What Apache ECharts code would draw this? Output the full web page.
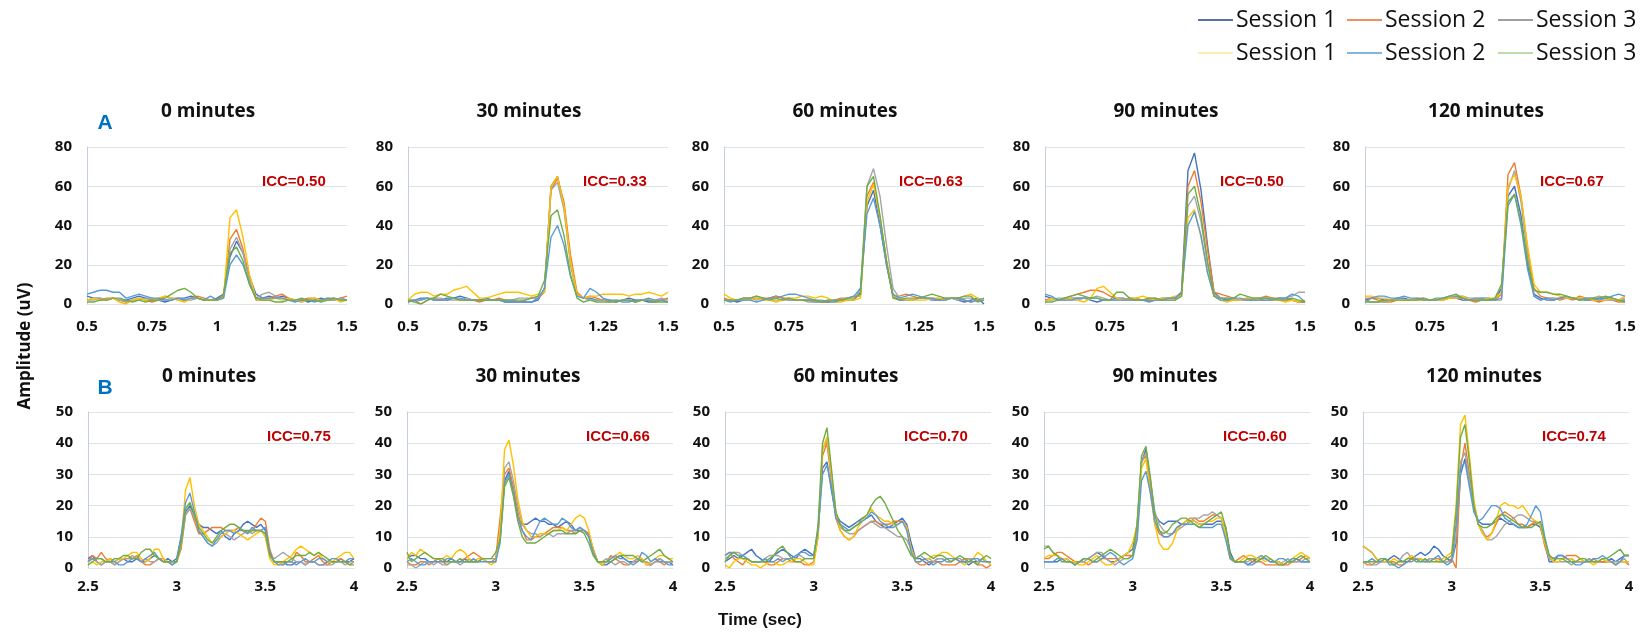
<!DOCTYPE html>
<html>
<head>
<meta charset="utf-8">
<script src="https://cdn.jsdelivr.net/npm/echarts@6/dist/echarts.min.js"></script>
<style>
  html, body { margin: 0; padding: 0; background: #ffffff; }
  #chart { width: 1645px; height: 644px; }
</style>
</head>
<body>
<div id="chart"></div>
<script>
// Sample times (seconds) for the two stimulus windows
const timesA = [0.5,0.525,0.55,0.575,0.6,0.625,0.65,0.675,0.7,0.725,0.75,0.775,0.8,0.825,0.85,0.875,0.9,0.925,0.95,0.975,1,1.025,1.05,1.075,1.1,1.125,1.15,1.175,1.2,1.225,1.25,1.275,1.3,1.325,1.35,1.375,1.4,1.425,1.45,1.475,1.5];
const timesB = [2.5,2.525,2.55,2.575,2.6,2.625,2.65,2.675,2.7,2.725,2.75,2.775,2.8,2.825,2.85,2.875,2.9,2.925,2.95,2.975,3,3.025,3.05,3.075,3.1,3.125,3.15,3.175,3.2,3.225,3.25,3.275,3.3,3.325,3.35,3.375,3.4,3.425,3.45,3.475,3.5,3.525,3.55,3.575,3.6,3.625,3.65,3.675,3.7,3.725,3.75,3.775,3.8,3.825,3.85,3.875,3.9,3.925,3.95,3.975,4];

const panelTitles = ['0 minutes', '30 minutes', '60 minutes', '90 minutes', '120 minutes'];
const iccA = ['0.50', '0.33', '0.63', '0.50', '0.67'];
const iccB = ['0.75', '0.66', '0.70', '0.60', '0.74'];
const xTicksA = { min: 0.5, max: 1.5, interval: 0.25 };
const xTicksB = { min: 2.5, max: 4, interval: 0.5 };
const yTicksA = { min: 0, max: 80, interval: 20 };
const yTicksB = { min: 0, max: 50, interval: 10 };

// Trace colours (two recordings x three sessions)
const traceColors = ['#4472C4', '#ED7D31', '#A5A5A5', '#FFC000', '#5B9BD5', '#70AD47'];
const legendLabels = ['Session 1', 'Session 2', 'Session 3', 'Session 1', 'Session 2', 'Session 3'];
const legendColors = ['#22408C', '#E46C2A', '#7F7F7F', '#FFE699', '#5B9BD5', '#A9D18E'];

// Row A amplitudes (uV), one list per trace
const ampA0 = [
  [4,3,3,2,3,2,2,3,4,3,2,2,1,2,3,3,4,3,2,2,3, 5,24,32,26,14,5,3,4, 3,4,3,2,2,1,2,3,2,2,3,2],
  [2,3,2,3,3,2,1,2,3,2,1,2,4,3,2,2,3,4,3,2,2, 4,33,38,28,12,2,2,3, 4,5,3,2,2,3,3,2,3,2,3,4],
  [2,2,3,2,3,2,1,2,2,3,3,2,2,3,3,2,2,3,2,2,2, 3,28,34,26,12,3,5,6, 4,3,2,2,1,2,3,2,2,2,3,2],
  [2,3,2,2,3,1,0,2,3,2,2,3,4,3,2,1,3,3,2,2,2, 3,44,48,34,15,3,2,2, 3,2,3,2,1,2,3,2,2,3,1,2],
  [5,6,7,7,6,6,3,4,5,4,3,3,2,2,3,2,3,3,2,4,2, 3,20,25,20,10,3,3,3, 3,3,2,1,2,2,1,2,3,3,2,2],
  [1,1,2,2,3,3,2,1,2,1,2,2,3,5,7,8,6,3,2,2,2, 5,26,29,22,10,3,2,2, 1,1,2,2,3,2,2,1,2,3,2,2]
];
const ampA30 = [
  [2,2,3,3,2,2,3,3,4,3,2,2,3,2,2,1,1,1,1,1,2, 8,60,65,50,22,5,3,3, 2,2,2,1,2,3,2,2,1,1,2,1],
  [1,2,0,2,3,2,2,3,2,2,2,1,2,2,3,2,2,1,2,3,3, 6,58,64,52,25,6,3,4, 3,2,2,1,2,2,1,2,2,1,2,3],
  [2,2,2,3,3,3,2,2,2,3,2,2,2,2,2,2,2,3,3,3,3, 7,58,62,48,20,4,3,2, 2,2,1,2,2,2,1,2,2,2,3,2],
  [2,5,6,6,4,5,5,7,8,9,6,3,3,4,5,6,6,6,5,4,5, 6,60,65,50,22,5,3,4, 4,5,5,5,5,4,5,5,6,5,4,6],
  [1,2,2,3,2,2,2,3,3,2,2,2,2,2,2,1,1,1,1,1,3, 8,34,40,30,14,4,3,8, 6,3,2,2,1,1,2,2,3,2,2,1],
  [2,1,0,2,3,5,4,3,2,2,2,2,2,2,2,2,2,2,2,3,4, 12,45,48,35,15,3,1,2, 1,1,1,1,2,2,1,2,2,1,1,1]
];
const ampA60 = [
  [2,2,1,2,2,3,2,3,4,3,2,2,2,2,1,1,1,2,2,2,2, 6,50,58,40,20,4,2,2, 2,3,3,2,2,2,3,2,1,2,3,0],
  [3,2,2,3,3,4,3,3,4,3,3,2,2,2,2,1,1,2,3,3,4, 4,55,62,44,22,4,4,5, 4,3,3,3,2,3,3,3,2,1,2,2],
  [2,2,2,3,3,2,3,2,2,2,2,2,2,1,1,1,2,2,2,2,2, 8,60,69,55,30,8,3,2, 2,3,3,2,3,2,3,2,3,3,2,2],
  [5,3,2,2,2,3,2,2,1,2,3,3,4,4,3,4,3,1,1,2,2, 3,52,61,44,22,4,3,2, 2,2,2,3,3,2,3,3,4,5,3,2],
  [2,1,2,2,2,1,2,3,3,4,5,5,4,3,2,2,1,1,2,3,4, 8,46,54,40,20,5,3,4, 5,4,3,3,2,2,3,3,2,1,2,3],
  [2,2,2,3,3,4,3,2,3,2,3,2,2,2,2,1,2,2,2,3,3, 5,60,65,45,22,3,2,3, 3,3,4,5,4,3,3,3,4,4,1,2]
];
const ampA90 = [
  [4,3,2,2,3,3,3,2,1,2,2,3,3,2,2,2,2,2,3,3,3, 6,68,77,58,30,6,3,2, 2,2,3,2,2,2,2,3,3,2,1,1],
  [2,3,2,3,4,5,6,7,7,6,4,3,2,3,3,2,2,2,2,3,3, 5,60,68,52,28,6,5,4, 3,2,2,3,3,4,3,3,2,2,1,1],
  [2,2,3,3,2,2,3,3,4,3,2,2,3,2,2,2,3,3,2,2,2, 4,50,55,42,20,5,3,3, 2,2,2,2,3,3,2,2,3,4,6,6],
  [1,3,2,2,3,2,1,3,8,9,6,3,2,2,3,4,3,2,3,3,4, 4,44,48,34,16,4,2,1, 2,2,3,3,2,3,2,2,1,2,1,2],
  [5,4,2,2,2,3,3,3,3,2,2,2,2,2,2,2,1,2,2,3,3, 6,40,47,35,16,4,2,2, 3,3,2,2,2,3,2,3,3,5,4,1],
  [1,1,2,3,4,5,4,3,3,2,2,6,6,3,2,2,3,3,2,2,2, 4,56,60,45,22,4,3,3, 3,5,4,3,3,3,3,2,2,3,2,1]
];
const ampA120 = [
  [2,3,3,2,2,3,3,2,2,2,2,2,3,3,3,2,2,3,3,3,2, 8,55,60,45,20,5,3,2, 2,3,3,3,3,2,2,3,3,3,2,2],
  [3,3,2,1,1,2,2,2,3,3,2,2,2,3,3,3,2,1,2,2,2, 5,66,72,55,28,8,4,3, 3,2,3,2,4,3,2,1,2,2,1,1],
  [2,1,1,1,2,2,2,2,2,2,2,2,2,3,4,4,3,3,2,2,2, 2,58,68,52,25,4,2,3, 3,3,3,3,2,3,3,4,3,2,2,3],
  [4,4,3,3,2,2,2,2,2,2,2,2,2,3,3,4,2,2,2,3,3, 6,60,66,55,30,10,6,6, 5,4,3,3,3,3,2,2,2,3,2,4],
  [1,3,4,4,3,3,4,3,3,2,2,2,3,4,4,3,2,2,2,2,2, 3,50,56,40,18,4,2,3, 2,3,4,3,2,3,3,2,3,4,5,4],
  [1,1,1,2,2,2,2,2,2,3,2,3,3,4,5,3,2,2,2,2,3, 10,52,56,42,22,7,6,6, 5,5,4,3,2,2,3,3,4,3,2,1]
];

// Row B amplitudes (uV), one list per trace
const ampB0 = [
  [3,4,2,1,2,3,2,3,3,2,2,3,2,2,3,4,3,2,3,2,3, 10,18,20,17,14,13,13,12,11,12,10,9,11,12,14,15,14,13,14,12,5,2,2, 2,1,1,2,2,1,2,2,1,1,2,2,2,3,2,2,3],
  [2,4,3,5,3,2,1,2,3,3,3,4,2,1,1,2,3,3,2,2,2, 6,17,19,15,11,11,12,13,13,13,12,12,12,13,12,11,12,14,16,15,6,2,2, 1,2,2,5,4,2,2,3,4,2,1,2,2,3,2,1,2],
  [2,3,2,1,2,2,1,2,3,3,4,3,2,3,2,2,3,2,2,1,2, 7,17,19,16,12,10,8,7,8,10,11,10,9,10,11,12,11,12,12,11,4,3,4, 5,4,3,2,2,1,2,2,1,1,1,1,2,2,1,2,2],
  [1,2,1,2,2,3,2,3,3,4,5,5,3,2,3,6,6,3,2,2,2, 8,25,29,20,14,12,10,8,9,10,11,12,12,11,10,9,10,11,12,10,3,1,1, 2,3,4,6,7,6,5,4,5,3,2,2,3,4,5,5,3],
  [2,3,3,3,2,2,2,1,1,2,3,3,2,3,4,5,3,2,2,1,2, 10,21,24,18,12,10,8,7,9,11,12,12,11,12,12,11,13,12,12,13,5,2,1, 1,2,2,1,2,3,2,2,3,3,2,3,3,2,2,3,3],
  [1,2,3,3,2,2,3,3,4,4,3,3,5,6,6,4,3,2,2,2,2, 8,19,21,17,13,11,9,8,10,12,13,14,14,13,12,12,12,12,12,11,4,2,2, 2,2,3,4,4,4,5,4,5,4,3,2,2,2,2,1,1]
];
const ampB30 = [
  [3,4,4,3,3,2,2,3,2,2,3,2,2,3,2,2,2,3,2,2,2, 10,28,31,24,16,14,14,15,16,15,15,14,14,13,14,15,14,12,12,12,11,6,2, 1,1,2,3,4,3,2,2,3,2,2,1,2,3,2,2,1],
  [2,1,1,2,2,1,2,3,2,1,2,2,2,3,4,5,4,3,2,2,3, 16,30,32,26,18,12,9,9,10,10,11,12,13,13,13,12,12,11,12,12,11,6,2, 1,2,4,3,2,1,1,2,2,3,1,1,2,2,1,2,2],
  [1,1,0,1,2,2,1,2,1,1,2,2,1,2,3,2,2,3,3,3,3, 9,32,34,28,20,14,12,11,11,10,11,11,10,11,11,11,12,12,13,12,10,5,2, 2,3,2,1,2,2,1,2,3,2,2,1,2,3,2,2,2],
  [3,5,4,6,5,4,3,3,3,4,3,5,6,5,3,2,3,3,2,1,2, 12,38,41,33,22,15,12,10,10,11,11,11,12,12,13,12,14,16,17,16,12,6,2, 1,2,3,4,5,4,3,3,4,3,1,2,3,4,4,3,3],
  [2,3,2,1,1,2,2,2,2,3,3,2,2,2,2,3,2,2,2,2,2, 8,27,30,24,16,12,10,9,12,15,16,15,14,14,16,15,13,12,13,12,10,5,2, 2,2,3,4,3,3,2,1,2,5,4,2,3,2,2,1,1],
  [5,2,3,4,5,4,3,3,3,2,2,2,3,2,2,2,2,3,3,3,5, 9,26,29,23,15,10,8,8,8,9,10,11,12,12,12,11,11,11,12,11,8,4,2, 2,2,2,3,4,4,4,4,3,2,3,4,5,6,4,3,2]
];
const ampB60 = [
  [2,3,4,3,4,5,6,4,3,2,2,4,5,6,5,4,3,5,6,5,4, 12,32,34,25,17,15,14,13,14,15,16,16,17,15,14,13,13,14,15,16,14,8,3, 3,2,1,2,3,3,2,2,3,2,2,1,2,2,3,2,2],
  [4,5,3,2,1,3,2,2,2,2,1,1,2,3,3,2,2,2,1,1,2, 10,36,40,28,16,12,10,9,10,12,13,14,15,15,14,14,14,15,15,15,13,6,2, 1,1,2,2,2,1,1,1,1,2,3,3,2,1,1,0,1],
  [3,4,5,5,4,3,2,2,2,3,4,4,4,3,3,3,4,4,3,3,3, 12,38,41,30,18,13,12,11,11,12,13,14,15,14,13,13,12,11,10,10,9,6,3, 4,3,3,2,3,3,2,2,3,3,2,3,3,2,3,2,2],
  [1,0,2,3,3,2,1,1,0,1,2,2,1,1,2,2,3,3,2,1,1, 10,38,42,30,18,12,10,9,10,13,15,17,19,17,16,15,15,14,14,15,13,6,2, 2,3,3,4,4,5,5,4,3,2,1,2,3,5,4,2,1],
  [4,5,5,4,4,3,2,2,2,3,2,2,3,2,3,3,4,5,5,4,4, 12,30,33,26,16,14,13,12,13,14,15,16,18,17,15,14,13,13,14,15,12,5,2, 2,3,2,1,2,2,3,3,3,2,2,2,3,3,2,2,2],
  [2,4,5,4,3,3,2,2,2,2,3,4,6,7,5,3,2,2,3,3,3, 14,40,45,32,18,14,12,12,13,14,16,17,20,22,23,21,18,15,12,10,7,4,3, 4,5,4,3,4,4,3,2,3,4,3,2,2,1,3,4,3]
];
const ampB90 = [
  [2,2,2,2,3,3,2,2,2,3,3,4,5,4,3,2,2,3,4,5,6, 14,34,38,28,17,15,14,15,15,15,14,14,15,15,14,14,14,14,15,15,13,5,2, 2,2,1,2,3,4,3,2,2,2,1,2,2,3,2,2,2],
  [3,3,4,5,5,4,3,2,2,2,1,2,2,3,3,3,3,3,4,4,4, 10,34,36,26,14,11,10,10,11,13,14,15,16,16,15,15,16,17,17,16,10,3,2, 3,4,3,2,2,2,1,1,1,1,1,1,2,2,3,4,3],
  [7,7,5,4,3,2,2,1,2,2,3,4,5,5,3,2,1,2,3,3,4, 11,34,37,28,18,14,12,11,11,12,13,14,15,16,16,17,17,18,17,16,10,3,2, 2,2,2,3,3,4,3,2,2,1,2,3,2,2,2,3,3],
  [3,4,4,4,3,3,2,2,1,1,2,3,4,2,1,1,2,3,4,5,8, 14,32,35,24,14,8,6,6,8,12,14,15,15,15,14,14,15,15,16,16,11,3,2, 2,3,4,4,3,3,2,3,2,2,1,2,3,4,5,4,3],
  [2,2,2,3,3,2,2,1,2,3,3,2,2,3,4,5,4,2,1,2,3, 9,28,31,24,15,12,10,10,11,13,14,14,14,14,13,13,13,13,14,14,9,3,2, 2,2,1,1,2,3,3,2,2,3,3,2,3,3,2,2,2],
  [6,7,5,4,2,2,2,1,2,3,3,2,3,4,5,6,5,4,3,3,4, 14,36,39,29,17,12,11,12,14,15,16,16,15,14,13,14,15,16,17,18,13,4,2, 2,2,3,3,2,3,4,3,2,1,1,2,2,3,4,3,2]
];
const ampB120 = [
  [7,6,5,3,2,2,3,4,3,2,2,3,4,5,4,5,7,6,4,3,2, 8,30,35,28,20,15,14,14,14,15,16,15,14,14,13,13,13,14,14,13,8,2,2, 4,4,3,3,2,2,2,3,2,2,2,2,3,2,3,4,4],
  [2,1,1,2,2,3,2,2,1,1,2,3,3,3,2,3,3,3,2,2,3, 0,32,40,30,20,14,11,10,11,14,17,18,17,16,14,14,13,14,15,14,7,3,3, 3,3,4,4,4,3,2,2,3,2,2,2,2,1,2,2,1],
  [2,2,1,1,2,2,2,1,2,4,5,3,2,3,2,3,3,2,2,2,2, 10,34,37,28,20,14,12,9,9,10,12,14,15,16,17,17,16,15,15,14,8,3,2, 2,2,2,1,2,2,2,3,2,2,3,2,2,2,2,3,1],
  [7,6,5,3,2,2,2,3,2,2,3,4,3,3,2,2,3,2,3,4,5, 20,46,49,36,22,14,11,9,11,15,20,21,20,20,19,20,18,16,15,14,8,4,2, 2,3,3,3,2,3,2,2,1,2,3,2,2,1,2,2,2],
  [2,2,3,2,2,3,1,1,0,1,2,2,3,2,2,2,3,4,2,1,2, 14,32,34,26,18,15,16,18,20,20,19,16,15,14,13,13,14,17,20,18,10,4,3, 4,4,3,2,1,1,2,2,3,3,4,3,2,1,2,4,4],
  [2,2,2,2,3,3,2,1,2,2,3,3,2,2,3,2,2,2,2,3,4, 18,42,46,34,20,14,13,13,14,16,17,17,16,15,14,13,13,13,14,15,9,4,3, 3,3,2,2,2,3,3,2,2,2,3,3,4,5,6,4,4]
];

const panelsA = [ampA0, ampA30, ampA60, ampA90, ampA120];
const panelsB = [ampB0, ampB30, ampB60, ampB90, ampB120];

// Plot-area placement of the two rows of small multiples
const rowLayouts = [
  { lefts: [87, 408, 724, 1045, 1365], width: 260, top: 147, height: 157, labelMargin: 15,
    times: timesA, panels: panelsA, icc: iccA, xTicks: xTicksA, yTicks: yTicksA, tag: 'A', iccDy: 35 },
  { lefts: [88, 407, 725, 1044, 1363], width: 266, top: 412, height: 156, labelMargin: 11,
    times: timesB, panels: panelsB, icc: iccB, xTicks: xTicksB, yTicks: yTicksB, tag: 'B', iccDy: 25 }
];

const tickFont = { fontFamily: 'Open Sans', fontWeight: 'bold', fontSize: 15, color: '#111111' };
const gridColor = '#DDE2EB';
const axisColor = '#C5CEDD';

const grids = [], xAxes = [], yAxes = [], series = [], graphics = [];

rowLayouts.forEach((row, r) => {
  row.panels.forEach((traces, p) => {
    const idx = grids.length;
    const left = row.lefts[p];
    grids.push({ left: left, top: row.top, width: row.width, height: row.height, containLabel: false });
    xAxes.push({
      type: 'value', gridIndex: idx,
      min: row.xTicks.min, max: row.xTicks.max, interval: row.xTicks.interval,
      axisLine: { show: true, onZero: false, lineStyle: { color: gridColor, width: 1 } },
      axisTick: { show: false },
      splitLine: { show: false },
      axisLabel: Object.assign({ margin: row.labelMargin, showMinLabel: true, showMaxLabel: true }, tickFont)
    });
    yAxes.push({
      type: 'value', gridIndex: idx,
      min: row.yTicks.min, max: row.yTicks.max, interval: row.yTicks.interval,
      axisLine: { show: true, lineStyle: { color: axisColor, width: 1 } },
      axisTick: { show: false },
      splitLine: { show: true, lineStyle: { color: gridColor, width: 1 } },
      axisLabel: Object.assign({ margin: 15 }, tickFont)
    });
    traces.forEach((vals, k) => {
      series.push({
        type: 'line', xAxisIndex: idx, yAxisIndex: idx,
        data: vals.map((v, i) => [row.times[i], v]),
        showSymbol: false, symbol: 'none', silent: true,
        lineStyle: { color: traceColors[k], width: 1.4 },
        itemStyle: { color: traceColors[k] },
        z: 2 + k
      });
    });
    // panel heading
    graphics.push({
      type: 'text', x: left + 121, y: row.top - 35,
      style: { text: panelTitles[p], align: 'center', verticalAlign: 'middle',
               font: 'bold 19px "Open Sans"', fill: '#111111' }
    });
    // ICC annotation
    graphics.push({
      type: 'text', x: left + Math.round(row.width * 0.672), y: row.top + row.iccDy,
      style: { text: 'ICC=' + row.icc[p], align: 'left', verticalAlign: 'middle',
               font: 'bold 15px "Liberation Sans"', fill: '#C00000' }
    });
  });
  // row tag
  graphics.push({
    type: 'text', x: 105, y: r === 0 ? 123 : 388,
    style: { text: row.tag, align: 'center', verticalAlign: 'middle',
             font: 'bold 21px "Liberation Sans"', fill: '#0070C0' }
  });
});

// shared axis titles
graphics.push({
  type: 'text', x: 25, y: 346, rotation: Math.PI / 2,
  style: { text: 'Amplitude (uV)', align: 'center', verticalAlign: 'middle',
           font: 'bold 17px "Open Sans"', fill: '#111111' }
});
graphics.push({
  type: 'text', x: 760, y: 620,
  style: { text: 'Time (sec)', align: 'center', verticalAlign: 'middle',
           font: 'bold 17px "Liberation Sans"', fill: '#111111' }
});

// session key, two rows of three
const keyCols = [1198, 1347, 1498];
const keyRows = [20, 53];
legendLabels.forEach((label, i) => {
  const cx = keyCols[i % 3];
  const cy = keyRows[Math.floor(i / 3)];
  graphics.push({
    type: 'line', shape: { x1: cx, y1: cy, x2: cx + 35, y2: cy },
    style: { stroke: legendColors[i], lineWidth: 1.5 }
  });
  graphics.push({
    type: 'text', x: cx + 38, y: cy,
    style: { text: label, align: 'left', verticalAlign: 'middle',
             font: '23px "Open Sans"', fill: '#111111' }
  });
});

const chart = echarts.init(document.getElementById('chart'), null, { renderer: 'canvas' });
chart.setOption({
  animation: false,
  backgroundColor: '#ffffff',
  grid: grids,
  xAxis: xAxes,
  yAxis: yAxes,
  series: series,
  graphic: graphics
});
</script>
</body>
</html>
